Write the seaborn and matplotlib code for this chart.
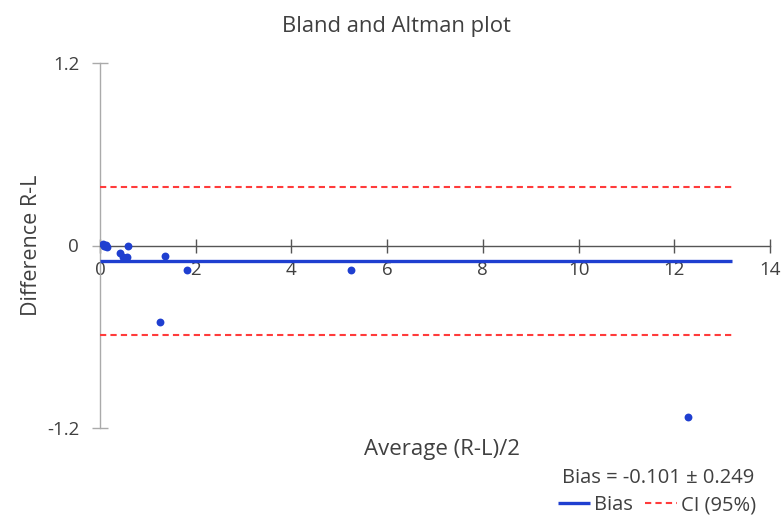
import matplotlib
matplotlib.use("Agg")
import matplotlib.pyplot as plt
import seaborn as sns
import pandas as pd
import numpy as np

# data
avg = [0.06, 0.10, 0.15, 0.12, 0.08, 0.42, 0.48, 0.57, 0.59, 1.36, 1.82, 1.26, 5.24, 12.28]
diff = [0.01, 0.00, -0.01, 0.005, -0.005, -0.05, -0.075, -0.075, 0.00, -0.07, -0.16, -0.50, -0.16, -1.13]
bias = -0.101
sd = 0.249
line_end = 13.2
x_ticks = [0, 2, 4, 6, 8, 10, 12, 14]
y_ticks = [-1.2, 0, 1.2]

df = pd.DataFrame({"avg": avg, "diff": diff})
upper = bias + 1.96 * sd
lower = bias - 1.96 * sd

sns.set_theme(style="white")
plt.rcParams['font.family'] = ['Open Sans', 'DejaVu Sans']

fig = plt.figure(figsize=(7.82, 5.17), dpi=100)
ax = fig.add_axes([100/782, 1-428/517, 670/782, 365/517])

blue = "#1f3fd0"
red = "#ff3b3b"
txt = "#404040"
sns.scatterplot(data=df, x="avg", y="diff", ax=ax, color=blue, s=32, edgecolor=blue, linewidth=0, zorder=4)
hb = ax.hlines(bias, 0, line_end, color=blue, lw=2.4, zorder=3, label="Bias")
hu = ax.hlines(upper, 0, line_end, color=red, lw=1.5, linestyles=(0, (3, 2)), zorder=3, label="CI (95%)")
ax.hlines(lower, 0, line_end, color=red, lw=1.5, linestyles=(0, (3, 2)), zorder=3)

ax.set_xlim(0, 14)
ax.set_ylim(-1.2, 1.2)
ax.set_xticks(x_ticks)
ax.set_yticks(y_ticks)
ax.set_yticklabels(["-1.2", "0", "1.2"])
for s in ["top", "right"]:
    ax.spines[s].set_visible(False)
ax.spines["bottom"].set_position(("data", 0))
ax.spines["bottom"].set_color("#555555")
ax.spines["bottom"].set_linewidth(1.0)
ax.spines["left"].set_color("#aaaaaa")
ax.spines["left"].set_linewidth(1.0)
ax.tick_params(axis="x", bottom=True, direction="inout", length=10, width=1, color="#555555",
               labelsize=13.5, labelcolor=txt, pad=6)
ax.tick_params(axis="y", left=True, direction="inout", length=12, width=1, color="#aaaaaa",
               labelsize=13.5, labelcolor=txt, pad=9)
ax.set_xlabel("")
ax.set_ylabel("Difference R-L", fontsize=15.5, color=txt, labelpad=2)
ax.yaxis.set_label_coords(-0.087, 0.5)
ax.text(0.51, -0.06, "Average (R-L)/2", transform=ax.transAxes, ha="center", va="center", fontsize=16, color=txt)
fig.text(396/782, 1-27/517, "Bland and Altman plot", ha="center", va="center", fontsize=15.8, color=txt)
fig.text(658/782, 1-478/517, "Bias = -0.101 \u00b1 0.249", ha="center", va="center", fontsize=14.5, color=txt)
fig.legend(handles=[hb, hu], labels=["Bias", "CI (95%)"], loc="center", bbox_to_anchor=(657/782, 1-505/517),
           ncol=2, frameon=False, fontsize=14.5, handlelength=1.6, handletextpad=0.2, columnspacing=0.6,
           labelcolor=txt)

fig.savefig("out.png", dpi=100)
